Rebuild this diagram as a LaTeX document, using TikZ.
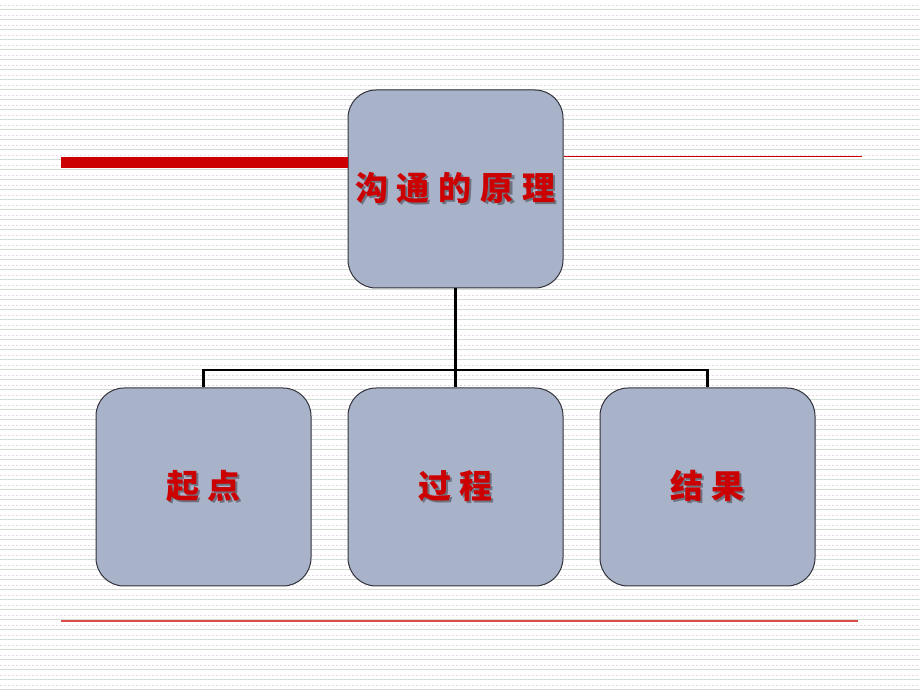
\documentclass[tikz,border=0pt]{standalone}
\usepackage{fontspec}
\newfontfamily\cjk{Noto Sans CJK SC}
\usepackage{tikz}
\usetikzlibrary{positioning}
\definecolor{boxfill}{HTML}{A8B2C8}
\definecolor{boxline}{HTML}{33333C}
\definecolor{titlered}{HTML}{CC0000}
\definecolor{shadowgray}{HTML}{6E7280}
\definecolor{stripe}{HTML}{D4DAD4}
\definecolor{dotline}{HTML}{E4D8E4}
\newcommand{\gp}{\hspace{9pt}}
\newcommand{\shtext}[1]{\rlap{\raisebox{-2pt}{\hspace{2pt}\color{shadowgray}#1}}\color{titlered}#1}
\tikzset{
  part/.style={draw=boxline,line width=1pt,fill=boxfill,rounded corners=28pt,
    minimum width=215pt,minimum height=198pt,inner sep=0pt,
    font=\cjk\bfseries\fontsize{33}{34}\selectfont},
  link/.style={line width=2.6pt,black}
}
\begin{document}
\begin{tikzpicture}[x=1pt,y=1pt]
\useasboundingbox (0,0) rectangle (920,690);
\fill[white] (0,0) rectangle (920,690);
% striped background
\foreach \y in {0,10,...,690}
  \draw[stripe,line width=1pt] (0,\y) -- (920,\y);
\foreach \y in {5,15,...,685}
  \draw[dotline,line width=0.8pt,dash pattern=on 2pt off 2pt] (0,\y) -- (920,\y);

\node[part] (process) at (455.5,203) {\raisebox{-3pt}{\shtext{过\gp 程}}};
\node[part,left=36pt of process] (start) {\raisebox{-3pt}{\shtext{起\gp 点}}};
\node[part,right=36pt of process] (result) {\raisebox{-3pt}{\shtext{结\gp 果}}};
\node[part,above=99pt of process] (principle) {\shtext{沟\gp 通\gp 的\gp 原\gp 理}};

% red rules
\coordinate (barlevel) at (0,533);
\fill[titlered] (61,522) rectangle (principle.west |- barlevel);
\draw[titlered,line width=1pt] (principle.east |- barlevel) -- (862,533);
\draw[titlered!70,line width=1.2pt] (61,69) -- (858,69);

\coordinate (bus) at (455.5,320);
\draw[link] (start.north) |- (bus) -| (result.north);
\draw[link] (principle.south) -- (process.north);
\end{tikzpicture}
\end{document}
